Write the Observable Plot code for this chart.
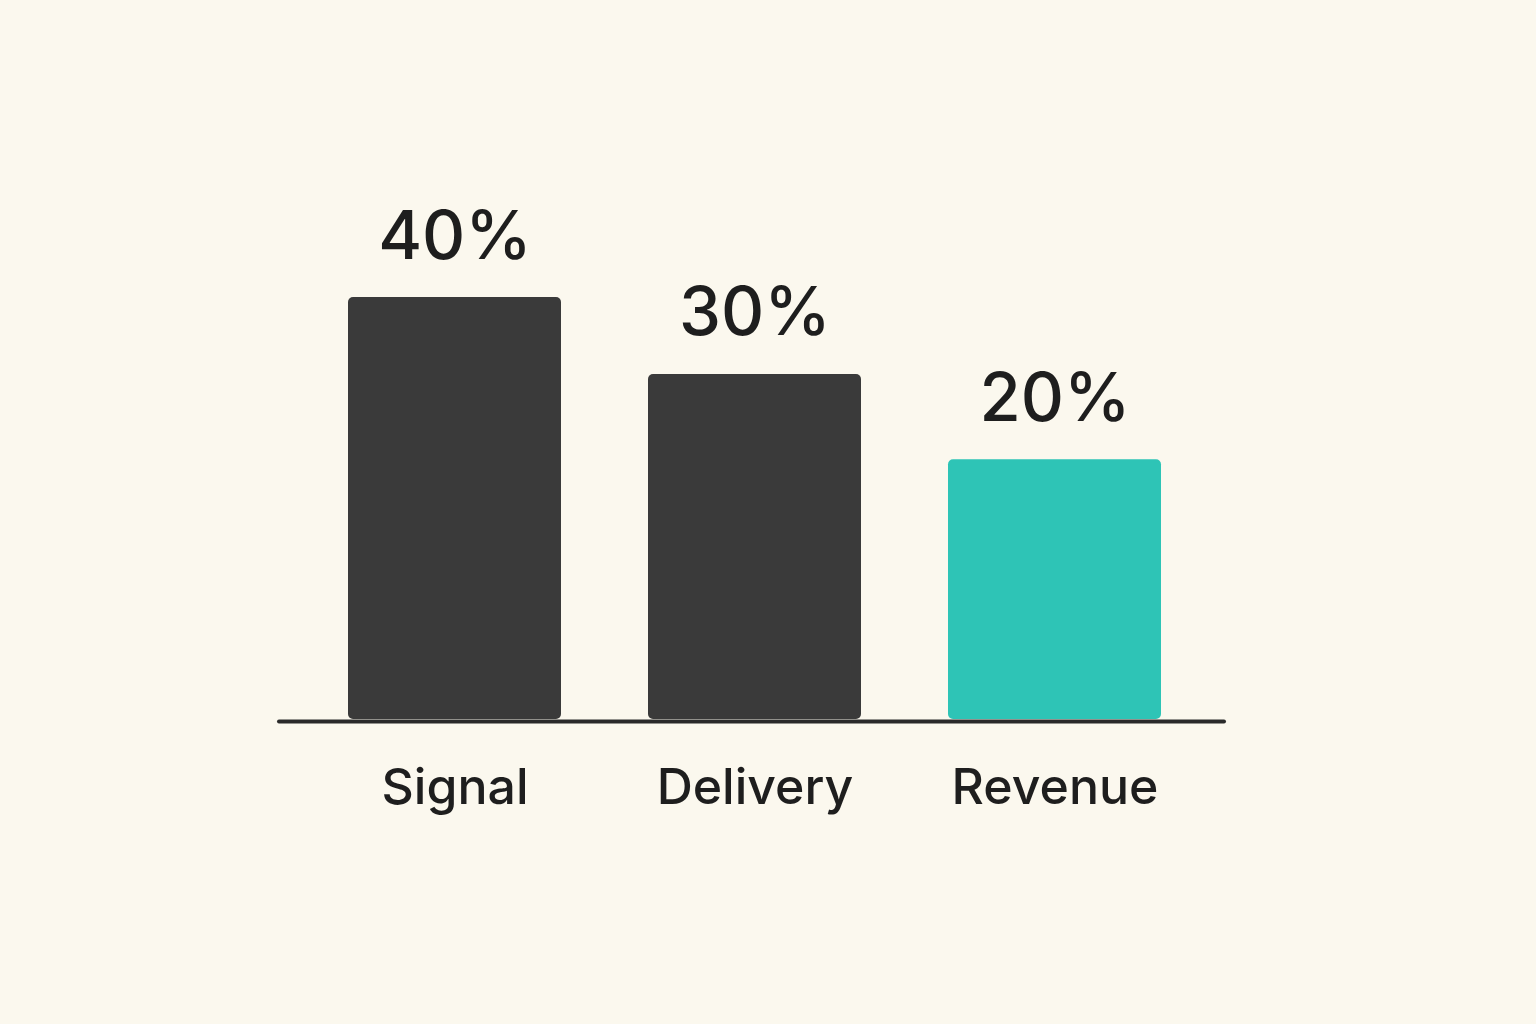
<!DOCTYPE html>
<html>
<head>
<meta charset="utf-8">
<script src="https://cdn.jsdelivr.net/npm/d3@7"></script>
<script src="https://cdn.jsdelivr.net/npm/@observablehq/plot@0.6"></script>
<style>
  html, body { margin: 0; padding: 0; background: #fbf8ee; }
  #chart svg { display: block; }
</style>
</head>
<body>
<div id="chart"></div>
<script>
const categories = ["Signal", "Delivery", "Revenue"];
const values = [40, 30, 20];
const labels = ["40%", "30%", "20%"];
const colors = ["#3a3a3a", "#3a3a3a", "#2ec4b6"];

const data = categories.map((c, i) => ({name: c, value: values[i], label: labels[i], color: colors[i]}));

const chart = Plot.plot({
  width: 1536,
  height: 1024,
  marginLeft: 281,
  marginRight: 307,
  marginTop: 297,
  marginBottom: 305,
  style: {background: "#fbf8ee", fontFamily: "Inter, 'Noto Sans', sans-serif"},
  x: {domain: categories, paddingInner: 0.289, paddingOuter: 0.22, axis: null},
  y: {type: "pow", exponent: 0.7, domain: [0, 40], axis: null},
  marks: [
    Plot.barY(data, {x: "name", y: "value", fill: "color", rx: 5}),
    Plot.ruleY([0], {stroke: "#2a2a2a", strokeWidth: 4, strokeLinecap: "round", dy: 2, insetLeft: -2, insetRight: 5}),
    Plot.text(data, {x: "name", y: "value", text: "label", dy: -39, lineAnchor: "bottom",
      fontSize: 67, fontWeight: 500, fill: "#1e1e1e"}),
    Plot.text(data, {x: "name", y: 0, text: "name", dy: 84, lineAnchor: "bottom",
      fontSize: 50, fontWeight: 500, fill: "#1e1e1e"})
  ]
});
document.getElementById("chart").appendChild(chart);
</script>
</body>
</html>
